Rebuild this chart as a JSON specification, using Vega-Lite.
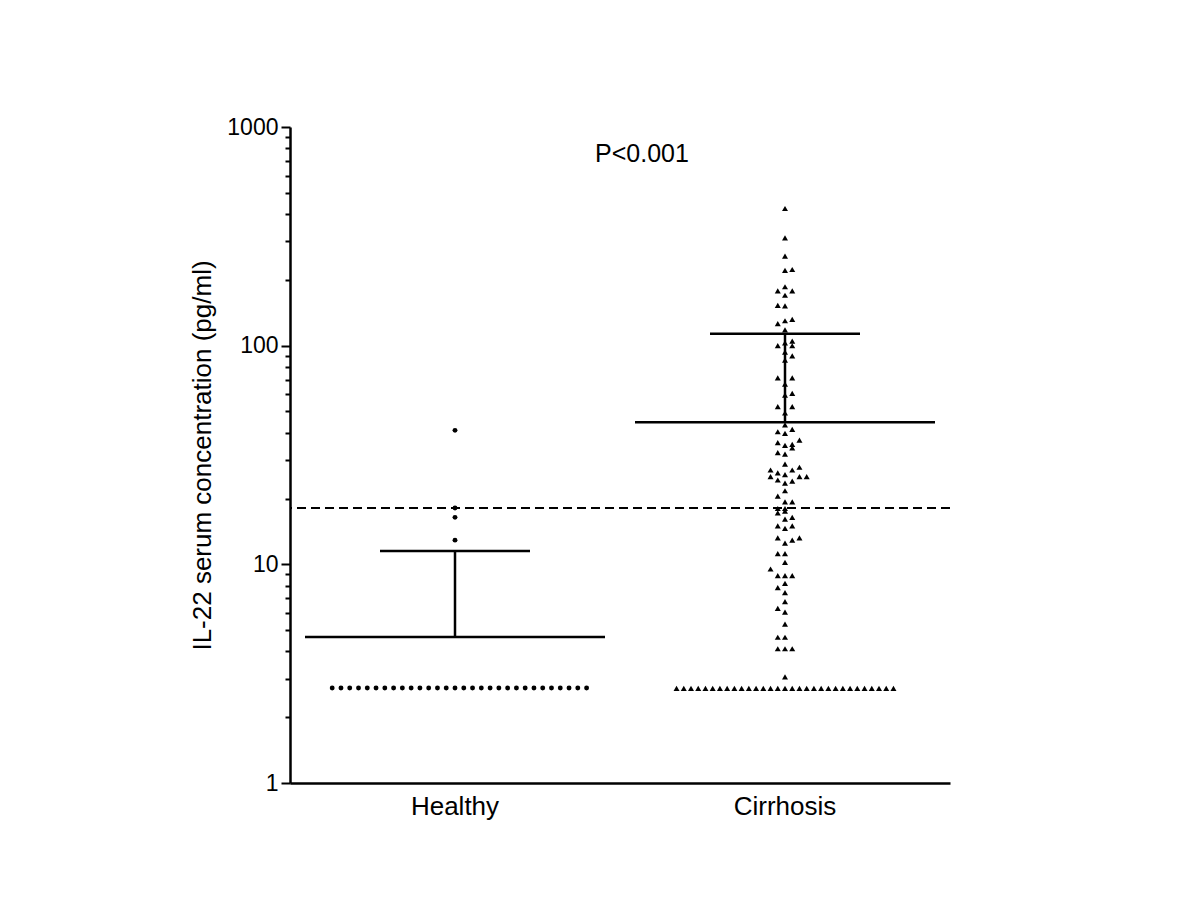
{
  "$schema": "https://vega.github.io/schema/vega-lite/v6.json",
  "width": 660,
  "height": 656,
  "autosize": "none",
  "padding": {"left": 290, "top": 127, "right": 250, "bottom": 117},
  "background": "white",
  "config": {
    "view": {"stroke": null},
    "font": "Liberation Sans",
    "axis": {
      "domainColor": "black",
      "domainWidth": 2.5,
      "tickColor": "black",
      "tickWidth": 2,
      "labelColor": "black",
      "titleColor": "black",
      "titleFontWeight": "normal",
      "grid": false
    }
  },
  "datasets": {
    "healthy": [
      {"group": "Healthy", "value": 41.0, "col": 0},
      {"group": "Healthy", "value": 18.1, "col": 0},
      {"group": "Healthy", "value": 16.4, "col": 0},
      {"group": "Healthy", "value": 12.9, "col": 0},
      {"group": "Healthy", "value": 2.72, "col": -14},
      {"group": "Healthy", "value": 2.72, "col": -13},
      {"group": "Healthy", "value": 2.72, "col": -12},
      {"group": "Healthy", "value": 2.72, "col": -11},
      {"group": "Healthy", "value": 2.72, "col": -10},
      {"group": "Healthy", "value": 2.72, "col": -9},
      {"group": "Healthy", "value": 2.72, "col": -8},
      {"group": "Healthy", "value": 2.72, "col": -7},
      {"group": "Healthy", "value": 2.72, "col": -6},
      {"group": "Healthy", "value": 2.72, "col": -5},
      {"group": "Healthy", "value": 2.72, "col": -4},
      {"group": "Healthy", "value": 2.72, "col": -3},
      {"group": "Healthy", "value": 2.72, "col": -2},
      {"group": "Healthy", "value": 2.72, "col": -1},
      {"group": "Healthy", "value": 2.72, "col": 0},
      {"group": "Healthy", "value": 2.72, "col": 1},
      {"group": "Healthy", "value": 2.72, "col": 2},
      {"group": "Healthy", "value": 2.72, "col": 3},
      {"group": "Healthy", "value": 2.72, "col": 4},
      {"group": "Healthy", "value": 2.72, "col": 5},
      {"group": "Healthy", "value": 2.72, "col": 6},
      {"group": "Healthy", "value": 2.72, "col": 7},
      {"group": "Healthy", "value": 2.72, "col": 8},
      {"group": "Healthy", "value": 2.72, "col": 9},
      {"group": "Healthy", "value": 2.72, "col": 10},
      {"group": "Healthy", "value": 2.72, "col": 11},
      {"group": "Healthy", "value": 2.72, "col": 12},
      {"group": "Healthy", "value": 2.72, "col": 13},
      {"group": "Healthy", "value": 2.72, "col": 14},
      {"group": "Healthy", "value": 2.72, "col": 15}
    ],
    "cirrhosis": [
      {"group": "Cirrhosis", "value": 424, "col": 0},
      {"group": "Cirrhosis", "value": 311, "col": 0},
      {"group": "Cirrhosis", "value": 257, "col": 0},
      {"group": "Cirrhosis", "value": 221, "col": 0},
      {"group": "Cirrhosis", "value": 223, "col": 1},
      {"group": "Cirrhosis", "value": 186, "col": 0},
      {"group": "Cirrhosis", "value": 178, "col": -1},
      {"group": "Cirrhosis", "value": 178, "col": 1},
      {"group": "Cirrhosis", "value": 170, "col": 0},
      {"group": "Cirrhosis", "value": 153, "col": -1},
      {"group": "Cirrhosis", "value": 152, "col": 0},
      {"group": "Cirrhosis", "value": 130, "col": 0},
      {"group": "Cirrhosis", "value": 132, "col": 1},
      {"group": "Cirrhosis", "value": 126, "col": -1},
      {"group": "Cirrhosis", "value": 118, "col": 0},
      {"group": "Cirrhosis", "value": 105, "col": 1},
      {"group": "Cirrhosis", "value": 103, "col": 0},
      {"group": "Cirrhosis", "value": 100, "col": -1},
      {"group": "Cirrhosis", "value": 99.9, "col": 1},
      {"group": "Cirrhosis", "value": 93.5, "col": 0},
      {"group": "Cirrhosis", "value": 89.9, "col": 1},
      {"group": "Cirrhosis", "value": 85.9, "col": 0},
      {"group": "Cirrhosis", "value": 71.3, "col": -1},
      {"group": "Cirrhosis", "value": 71.3, "col": 1},
      {"group": "Cirrhosis", "value": 66.7, "col": 0},
      {"group": "Cirrhosis", "value": 60.5, "col": 1},
      {"group": "Cirrhosis", "value": 59.4, "col": 0},
      {"group": "Cirrhosis", "value": 52.6, "col": -1},
      {"group": "Cirrhosis", "value": 52.6, "col": 1},
      {"group": "Cirrhosis", "value": 49.2, "col": 0},
      {"group": "Cirrhosis", "value": 43.4, "col": 0},
      {"group": "Cirrhosis", "value": 40.4, "col": -1},
      {"group": "Cirrhosis", "value": 39.7, "col": 0},
      {"group": "Cirrhosis", "value": 41.4, "col": 1},
      {"group": "Cirrhosis", "value": 37.0, "col": 2},
      {"group": "Cirrhosis", "value": 36.0, "col": -1},
      {"group": "Cirrhosis", "value": 35.0, "col": 0},
      {"group": "Cirrhosis", "value": 35.4, "col": 1},
      {"group": "Cirrhosis", "value": 34.1, "col": 1},
      {"group": "Cirrhosis", "value": 32.4, "col": -1},
      {"group": "Cirrhosis", "value": 31.9, "col": 0},
      {"group": "Cirrhosis", "value": 28.7, "col": 0},
      {"group": "Cirrhosis", "value": 27.0, "col": -2},
      {"group": "Cirrhosis", "value": 26.2, "col": -1},
      {"group": "Cirrhosis", "value": 25.7, "col": 0},
      {"group": "Cirrhosis", "value": 27.0, "col": 1},
      {"group": "Cirrhosis", "value": 27.8, "col": 2},
      {"group": "Cirrhosis", "value": 25.2, "col": -2},
      {"group": "Cirrhosis", "value": 24.3, "col": -1},
      {"group": "Cirrhosis", "value": 23.5, "col": 0},
      {"group": "Cirrhosis", "value": 24.0, "col": 1},
      {"group": "Cirrhosis", "value": 25.2, "col": 2},
      {"group": "Cirrhosis", "value": 25.2, "col": 3},
      {"group": "Cirrhosis", "value": 21.7, "col": 0},
      {"group": "Cirrhosis", "value": 20.5, "col": -1},
      {"group": "Cirrhosis", "value": 19.3, "col": 0},
      {"group": "Cirrhosis", "value": 19.3, "col": 1},
      {"group": "Cirrhosis", "value": 18.0, "col": -1},
      {"group": "Cirrhosis", "value": 18.0, "col": 0},
      {"group": "Cirrhosis", "value": 17.2, "col": -1},
      {"group": "Cirrhosis", "value": 17.5, "col": 0},
      {"group": "Cirrhosis", "value": 16.1, "col": 0},
      {"group": "Cirrhosis", "value": 16.4, "col": 1},
      {"group": "Cirrhosis", "value": 15.0, "col": -1},
      {"group": "Cirrhosis", "value": 14.6, "col": 0},
      {"group": "Cirrhosis", "value": 15.0, "col": 1},
      {"group": "Cirrhosis", "value": 13.2, "col": -1},
      {"group": "Cirrhosis", "value": 12.5, "col": 0},
      {"group": "Cirrhosis", "value": 12.9, "col": 1},
      {"group": "Cirrhosis", "value": 13.2, "col": 2},
      {"group": "Cirrhosis", "value": 11.2, "col": -1},
      {"group": "Cirrhosis", "value": 11.2, "col": 0},
      {"group": "Cirrhosis", "value": 10.2, "col": 0},
      {"group": "Cirrhosis", "value": 9.52, "col": -2},
      {"group": "Cirrhosis", "value": 8.87, "col": -1},
      {"group": "Cirrhosis", "value": 8.87, "col": 0},
      {"group": "Cirrhosis", "value": 8.87, "col": 1},
      {"group": "Cirrhosis", "value": 8.19, "col": 0},
      {"group": "Cirrhosis", "value": 7.82, "col": -1},
      {"group": "Cirrhosis", "value": 7.42, "col": 0},
      {"group": "Cirrhosis", "value": 6.75, "col": 0},
      {"group": "Cirrhosis", "value": 6.29, "col": -1},
      {"group": "Cirrhosis", "value": 6.05, "col": 0},
      {"group": "Cirrhosis", "value": 5.33, "col": 0},
      {"group": "Cirrhosis", "value": 4.64, "col": -1},
      {"group": "Cirrhosis", "value": 4.64, "col": 0},
      {"group": "Cirrhosis", "value": 4.11, "col": -1},
      {"group": "Cirrhosis", "value": 4.11, "col": 0},
      {"group": "Cirrhosis", "value": 4.11, "col": 1},
      {"group": "Cirrhosis", "value": 3.06, "col": 0},
      {"group": "Cirrhosis", "value": 2.71, "col": -15},
      {"group": "Cirrhosis", "value": 2.71, "col": -14},
      {"group": "Cirrhosis", "value": 2.71, "col": -13},
      {"group": "Cirrhosis", "value": 2.71, "col": -12},
      {"group": "Cirrhosis", "value": 2.71, "col": -11},
      {"group": "Cirrhosis", "value": 2.71, "col": -10},
      {"group": "Cirrhosis", "value": 2.71, "col": -9},
      {"group": "Cirrhosis", "value": 2.71, "col": -8},
      {"group": "Cirrhosis", "value": 2.71, "col": -7},
      {"group": "Cirrhosis", "value": 2.71, "col": -6},
      {"group": "Cirrhosis", "value": 2.71, "col": -5},
      {"group": "Cirrhosis", "value": 2.71, "col": -4},
      {"group": "Cirrhosis", "value": 2.71, "col": -3},
      {"group": "Cirrhosis", "value": 2.71, "col": -2},
      {"group": "Cirrhosis", "value": 2.71, "col": -1},
      {"group": "Cirrhosis", "value": 2.71, "col": 0},
      {"group": "Cirrhosis", "value": 2.71, "col": 1},
      {"group": "Cirrhosis", "value": 2.71, "col": 2},
      {"group": "Cirrhosis", "value": 2.71, "col": 3},
      {"group": "Cirrhosis", "value": 2.71, "col": 4},
      {"group": "Cirrhosis", "value": 2.71, "col": 5},
      {"group": "Cirrhosis", "value": 2.71, "col": 6},
      {"group": "Cirrhosis", "value": 2.71, "col": 7},
      {"group": "Cirrhosis", "value": 2.71, "col": 8},
      {"group": "Cirrhosis", "value": 2.71, "col": 9},
      {"group": "Cirrhosis", "value": 2.71, "col": 10},
      {"group": "Cirrhosis", "value": 2.71, "col": 11},
      {"group": "Cirrhosis", "value": 2.71, "col": 12},
      {"group": "Cirrhosis", "value": 2.71, "col": 13},
      {"group": "Cirrhosis", "value": 2.71, "col": 14},
      {"group": "Cirrhosis", "value": 2.71, "col": 15}
    ],
    "summary": [
      {"group": "Healthy", "value": 4.65, "upper": 11.5},
      {"group": "Cirrhosis", "value": 44.6, "upper": 113.4}
    ],
    "threshold": [{"value": 18.1}],
    "note": [{"group": "Cirrhosis", "value": 752, "label": "P<0.001"}]
  },
  "encoding": {
    "y": {
      "field": "value",
      "type": "quantitative",
      "scale": {"type": "log", "domain": [1, 1000], "nice": false},
      "axis": {
        "title": "IL-22 serum concentration (pg/ml)",
        "titleFontSize": 26,
        "titlePadding": 11,
        "labelFontSize": 23,
        "labelPadding": 3,
        "labelOverlap": false,
        "values": [1, 2, 3, 4, 5, 6, 7, 8, 9, 10, 20, 30, 40, 50, 60, 70, 80, 90, 100, 200, 300, 400, 500, 600, 700, 800, 900, 1000],
        "labelExpr": "(datum.value == 1 || datum.value == 10 || datum.value == 100 || datum.value == 1000) ? format(datum.value, 'd') : ''",
        "tickSize": {"condition": {"test": "datum.value == 1 || datum.value == 10 || datum.value == 100 || datum.value == 1000", "value": 9}, "value": 5}
      }
    }
  },
  "resolve": {"scale": {"xOffset": "independent"}},
  "layer": [
    {
      "data": {"name": "threshold"},
      "mark": {"type": "rule", "color": "black", "strokeWidth": 2, "strokeDash": [9, 5]},
      "encoding": {}
    },
    {
      "data": {"name": "healthy"},
      "mark": {"type": "point", "shape": "circle", "filled": true, "color": "black", "size": 24, "opacity": 1},
      "encoding": {
        "x": {"field": "group", "type": "nominal", "scale": {"domain": ["Healthy", "Cirrhosis"], "paddingInner": 0, "paddingOuter": 0}, "axis": {"title": null, "ticks": false, "labelFontSize": 26, "labelPadding": 10, "labelAngle": 0}},
        "xOffset": {"field": "col", "type": "quantitative", "scale": {"domain": [-18.81, 18.81]}}
      }
    },
    {
      "data": {"name": "cirrhosis"},
      "mark": {"type": "point", "shape": "triangle-up", "filled": true, "color": "black", "size": 36, "opacity": 1},
      "encoding": {
        "x": {"field": "group", "type": "nominal", "scale": {"domain": ["Healthy", "Cirrhosis"], "paddingInner": 0, "paddingOuter": 0}, "axis": {"title": null, "ticks": false, "labelFontSize": 26, "labelPadding": 10, "labelAngle": 0}},
        "xOffset": {"field": "col", "type": "quantitative", "scale": {"domain": [-22.82, 22.82]}}
      }
    },
    {
      "data": {"name": "summary"},
      "mark": {"type": "rule", "color": "black", "strokeWidth": 2.5},
      "encoding": {
        "x": {"field": "group", "type": "nominal", "scale": {"domain": ["Healthy", "Cirrhosis"], "paddingInner": 0, "paddingOuter": 0}},
        "y2": {"field": "upper"}
      }
    },
    {
      "data": {"name": "summary"},
      "mark": {"type": "tick", "orient": "horizontal", "color": "black", "size": 300, "thickness": 2.5, "opacity": 1},
      "encoding": {
        "x": {"field": "group", "type": "nominal", "scale": {"domain": ["Healthy", "Cirrhosis"], "paddingInner": 0, "paddingOuter": 0}}
      }
    },
    {
      "data": {"name": "summary"},
      "mark": {"type": "tick", "orient": "horizontal", "color": "black", "size": 150, "thickness": 2.5, "opacity": 1},
      "encoding": {
        "x": {"field": "group", "type": "nominal", "scale": {"domain": ["Healthy", "Cirrhosis"], "paddingInner": 0, "paddingOuter": 0}},
        "y": {"field": "upper", "type": "quantitative"}
      }
    },
    {
      "data": {"name": "note"},
      "mark": {"type": "text", "fontSize": 25, "color": "black", "align": "center", "baseline": "middle", "dx": 22},
      "encoding": {
        "x": {"field": "group", "type": "nominal", "bandPosition": 0, "scale": {"domain": ["Healthy", "Cirrhosis"], "paddingInner": 0, "paddingOuter": 0}},
        "text": {"field": "label"}
      }
    }
  ]
}
